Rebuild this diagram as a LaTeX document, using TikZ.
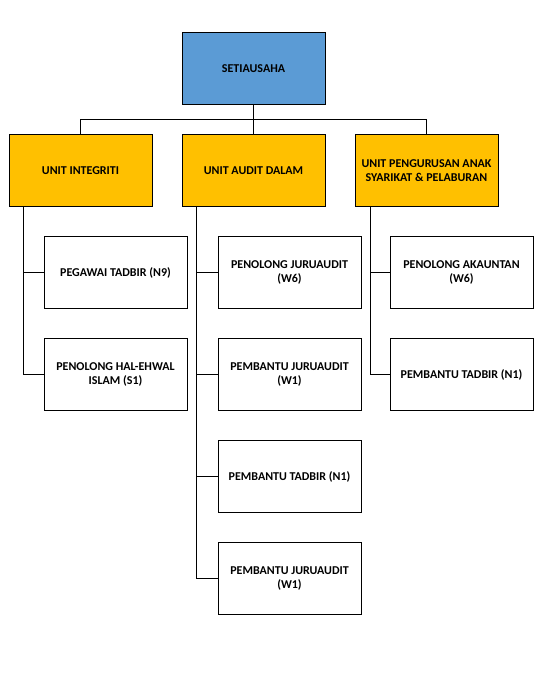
\documentclass[tikz,border=0pt]{standalone}
\usepackage{fontspec}
\setmainfont{Carlito}
\usepackage{xcolor}
\usepackage{tikz}
\usetikzlibrary{positioning, calc}

\definecolor{headblue}{HTML}{5B9BD5}
\definecolor{unitgold}{HTML}{FFC000}

\begin{document}
\begin{tikzpicture}[x=1pt, y=-1pt,
    box/.style={rectangle, draw=black, line width=0.9pt, minimum width=143pt, minimum height=72pt, align=center, font=\fontsize{12}{14}\selectfont\bfseries, inner sep=2pt, outer sep=0pt},
    headbox/.style={box, fill=headblue},
    unitbox/.style={box, fill=unitgold},
    staffbox/.style={box, fill=white},
    line/.style={draw, line width=0.8pt}]

    \useasboundingbox (0,0) rectangle (548,683);

    \node [headbox] (sec) at (253.5,68.5) {SETIAUSAHA};
    \node [unitbox, below=30pt of sec] (audit) {UNIT AUDIT DALAM};
    \node [unitbox, left=30pt of audit] (integ) {UNIT INTEGRITI};
    \node [unitbox, right=30pt of audit] (urus) {UNIT PENGURUSAN ANAK\\SYARIKAT \& PELABURAN};

    % staff under unit integriti
    \node [staffbox, below right=30pt and -108pt of integ] (pt9) {PEGAWAI TADBIR (N9)};
    \node [staffbox, below=30pt of pt9] (phe) {PENOLONG HAL-EHWAL\\ISLAM (S1)};

    % staff under unit audit dalam
    \node [staffbox, below right=30pt and -107pt of audit] (pj6) {PENOLONG JURUAUDIT\\(W6)};
    \node [staffbox, below=30pt of pj6] (bj1) {PEMBANTU JURUAUDIT\\(W1)};
    \node [staffbox, below=30pt of bj1] (bt1) {PEMBANTU TADBIR (N1)};
    \node [staffbox, below=30pt of bt1] (bj2) {PEMBANTU JURUAUDIT\\(W1)};

    % staff under unit pengurusan
    \node [staffbox, below right=30pt and -108pt of urus] (pa6) {PENOLONG AKAUNTAN\\(W6)};
    \node [staffbox, below=30pt of pa6] (bt2) {PEMBANTU TADBIR (N1)};

    % top level
    \path [line] (sec.south) -- (audit.north);
    \path [line] (sec.south) -- ++(0,15) -| (integ.north);
    \path [line] (sec.south) -- ++(0,15) -| (urus.north);

    % branch lines
    \coordinate (ibr) at ($(integ.south west)+(14,0)$);
    \coordinate (abr) at ($(audit.south west)+(14,0)$);
    \coordinate (ubr) at ($(urus.south west)+(15,0)$);
    \path [line] (ibr) |- (pt9.west);
    \path [line] (ibr) |- (phe.west);
    \path [line] (abr) |- (pj6.west);
    \path [line] (abr) |- (bj1.west);
    \path [line] (abr) |- (bt1.west);
    \path [line] (abr) |- (bj2.west);
    \path [line] (ubr) |- (pa6.west);
    \path [line] (ubr) |- (bt2.west);
\end{tikzpicture}
\end{document}
